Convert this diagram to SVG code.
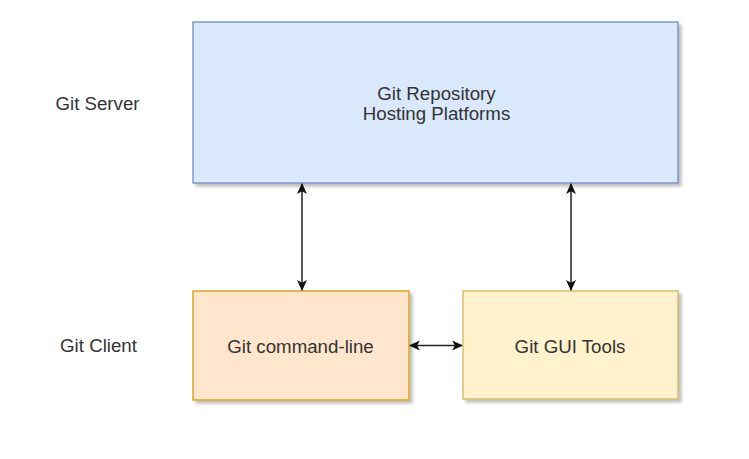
<svg xmlns="http://www.w3.org/2000/svg" width="749" height="459" viewBox="0 0 749 459">
  <defs>
    <filter id="shadow" x="-10%" y="-10%" width="130%" height="130%">
      <feGaussianBlur in="SourceAlpha" stdDeviation="1.5"/>
      <feOffset dx="3" dy="3" result="b"/>
      <feComponentTransfer><feFuncA type="linear" slope="0.25"/></feComponentTransfer>
      <feMerge><feMergeNode/><feMergeNode in="SourceGraphic"/></feMerge>
    </filter>
    <marker id="arrow" viewBox="0 0 10 10" refX="9" refY="5" markerWidth="11" markerHeight="11" markerUnits="userSpaceOnUse" orient="auto-start-reverse">
      <path d="M0,0.5 L10,5 L0,9.5 L2.5,5 Z" fill="#111"/>
    </marker>
    <style>
      .lbl { font-family: "Liberation Sans", Arial, sans-serif; font-size: 18.7px; fill: #333; text-anchor: middle; }
      .edge { stroke: #222; stroke-width: 1.5; fill: none; marker-start: url(#arrow); marker-end: url(#arrow); }
      .box { stroke-width: 1.3; filter: url(#shadow); }
    </style>
  </defs>
  <rect width="749" height="459" fill="#ffffff"/>

  <g id="label-server">
    <text class="lbl" x="97.5" y="110">Git Server</text>
  </g>
  <g id="label-client">
    <text class="lbl" x="98.5" y="352">Git Client</text>
  </g>

  <g id="hosting">
    <rect class="box" x="193" y="22" width="485" height="161" fill="#dae8fc" stroke="#6c8ebf"/>
    <text class="lbl" x="436.5" y="100">Git Repository</text>
    <text class="lbl" x="436.5" y="120">Hosting Platforms</text>
  </g>

  <g id="cli">
    <rect class="box" x="193" y="291" width="216" height="109" fill="#ffe6cc" stroke="#d79b00"/>
    <text class="lbl" x="300.5" y="353">Git command-line</text>
  </g>

  <g id="gui">
    <rect class="box" x="463" y="291" width="215" height="108" fill="#fff2cc" stroke="#d6b656"/>
    <text class="lbl" x="570" y="353">Git GUI Tools</text>
  </g>

  <g id="connectors">
    <line class="edge" x1="302" y1="184" x2="302" y2="290"/>
    <line class="edge" x1="571" y1="184" x2="571" y2="290"/>
    <line class="edge" x1="410" y1="345.5" x2="462" y2="345.5"/>
  </g>
</svg>
